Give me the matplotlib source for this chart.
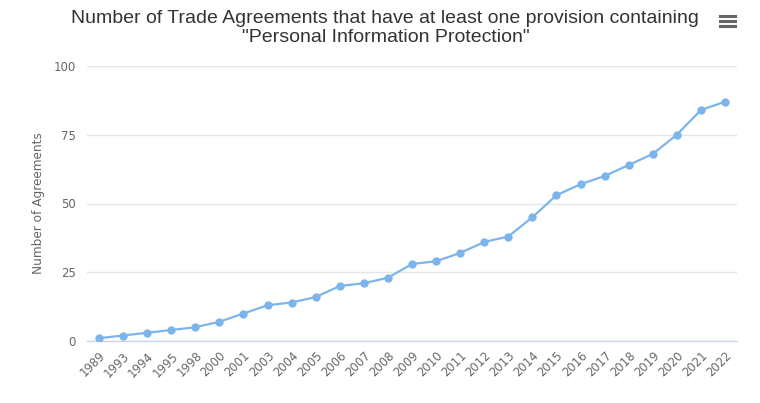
import matplotlib
matplotlib.use("Agg")
import matplotlib.pyplot as plt
from matplotlib.lines import Line2D

# agreements per year containing a personal information protection provision
years = ["1989", "1993", "1994", "1995", "1998", "2000", "2001", "2003", "2004",
         "2005", "2006", "2007", "2008", "2009", "2010", "2011", "2012", "2013",
         "2014", "2015", "2016", "2017", "2018", "2019", "2020", "2021", "2022"]
agreements = [1, 2, 3, 4, 5, 7, 10, 13, 14, 16, 20, 21, 23, 28, 29, 32, 36, 38,
              45, 53, 57, 60, 64, 68, 75, 84, 87]
yticks = [0, 25, 50, 75, 100]

title = ('Number of Trade Agreements that have at least one provision containing\n'
         '"Personal Information Protection"')

text_color = "#666666"
line_color = "#7cb5ec"

fig = plt.figure(figsize=(7.6, 4.03), dpi=100)
ax = fig.add_axes([87 / 760, 1 - 341 / 403, 650 / 760, 275 / 403])

x = list(range(len(years)))
ax.plot(x, agreements, color=line_color, lw=1.6, marker="o", ms=6,
        markeredgewidth=0, zorder=3)

ax.set_xlim(-0.5, len(years) - 0.5)
ax.set_ylim(0, 100)
ax.set_yticks(yticks)
ax.set_yticklabels([str(t) for t in yticks], fontsize=8.5, color=text_color)
ax.set_xticks(x)
ax.set_xticklabels(years, rotation=45, ha="right", rotation_mode="anchor",
                   fontsize=8.4, color=text_color)
ax.tick_params(axis="both", length=0, pad=8)
ax.tick_params(axis="x", pad=6)

ax.grid(axis="y", color="#e6e6e6", lw=1)
ax.set_axisbelow(True)
for side in ["top", "right", "left"]:
    ax.spines[side].set_visible(False)
ax.spines["bottom"].set_color("#ccd6eb")
ax.spines["bottom"].set_linewidth(1)

ax.set_ylabel("Number of Agreements", fontsize=8.7, color=text_color, labelpad=6)

fig.text(0.507, 1 - 28 / 403, title, ha="center", va="center", fontsize=14,
         color="#333333", family="Liberation Sans", linespacing=1.15)

# menu icon in the top right corner
for yy in [16, 21, 26]:
    fig.add_artist(Line2D([720 / 760, 735 / 760], [1 - yy / 403, 1 - yy / 403],
                          color="#666666", lw=2.2))

fig.savefig("out.png", dpi=100)
